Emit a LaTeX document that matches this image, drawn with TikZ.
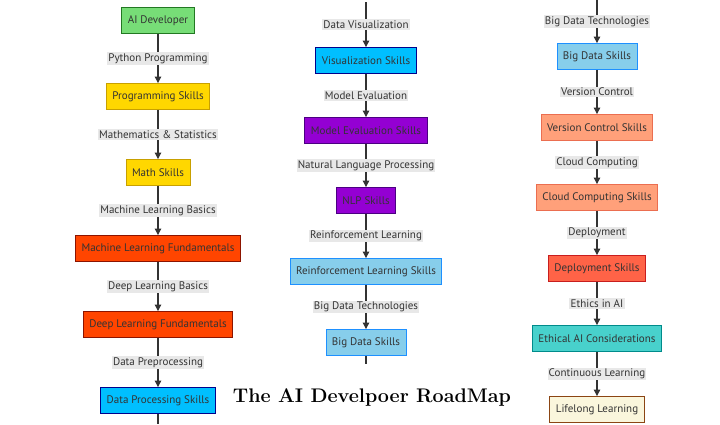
\documentclass[tikz,border=0pt]{standalone}
\usepackage{fontspec}
\setsansfont{PT Sans}
\usetikzlibrary{arrows.meta}

\definecolor{ink}{HTML}{333333}
\definecolor{lblbg}{HTML}{E8E8E8}

\begin{document}
\begin{tikzpicture}[x=1pt,y=-1pt,
    skill/.style={draw, line width=0.9pt, text=ink, font=\sffamily\fontsize{11}{12}\selectfont,
      inner xsep=6pt, minimum height=26pt, anchor=center},
    flow/.style={draw=ink, line width=1.1pt, -{Triangle[width=6.5pt,length=6.5pt]}},
    plain/.style={draw=ink, line width=1.1pt},
    lbl/.style={fill=lblbg, text=ink, font=\sffamily\fontsize{11}{12}\selectfont, inner sep=1.2pt}]

	\useasboundingbox (0,0) rectangle (720,424);

	% left column
	\node[skill, fill={rgb,255:red,119;green,221;blue,119}, draw={rgb,255:red,34;green,120;blue,34}] (dev) at (158,20.5) {AI Developer};
	\node[skill, fill={rgb,255:red,255;green,215;blue,0}, draw={rgb,255:red,200;green,160;blue,0}] (prog) at (158,96.5) {Programming Skills};
	\node[skill, fill={rgb,255:red,255;green,215;blue,0}, draw={rgb,255:red,200;green,160;blue,0}] (math) at (158,172.5) {Math Skills};
	\node[skill, fill={rgb,255:red,255;green,69;blue,0}, draw={rgb,255:red,140;green,20;blue,0}] (mlf) at (158,248.5) {Machine Learning Fundamentals};
	\node[skill, fill={rgb,255:red,255;green,69;blue,0}, draw={rgb,255:red,140;green,20;blue,0}] (dlf) at (158,324.5) {Deep Learning Fundamentals};
	\node[skill, fill={rgb,255:red,0;green,191;blue,255}, draw={rgb,255:red,0;green,0;blue,139}] (dps) at (158,400.5) {Data Processing Skills};
	\coordinate (leftend) at (158,424);

	\draw[flow] (dev) -- node[lbl]{Python Programming} (prog);
	\draw[flow] (prog) -- node[lbl]{Mathematics \& Statistics} (math);
	\draw[flow] (math) -- node[lbl]{Machine Learning Basics} (mlf);
	\draw[flow] (mlf) -- node[lbl]{Deep Learning Basics} (dlf);
	\draw[flow] (dlf) -- node[lbl]{Data Preprocessing} (dps);
	\draw[plain] (dps) -- (leftend);

	% middle column
	\coordinate (midstart) at (366,2);
	\node[skill, fill={rgb,255:red,0;green,191;blue,255}, draw={rgb,255:red,0;green,0;blue,139}] (vis) at (366,60.5) {Visualization Skills};
	\node[skill, fill={rgb,255:red,148;green,0;blue,211}, draw={rgb,255:red,75;green,0;blue,130}] (eval) at (366,130.5) {Model Evaluation Skills};
	\node[skill, fill={rgb,255:red,148;green,0;blue,211}, draw={rgb,255:red,75;green,0;blue,130}] (nlp) at (366,200.5) {NLP Skills};
	\node[skill, fill={rgb,255:red,135;green,206;blue,235}, draw={rgb,255:red,30;green,144;blue,255}] (rl) at (366,271.5) {Reinforcement Learning Skills};
	\node[skill, fill={rgb,255:red,135;green,206;blue,235}, draw={rgb,255:red,30;green,144;blue,255}] (bdm) at (366,342.5) {Big Data Skills};
	\coordinate (midend) at (366,364);

	\draw[flow] (midstart) -- node[lbl]{Data Visualization} (vis);
	\draw[flow] (vis) -- node[lbl]{Model Evaluation} (eval);
	\draw[flow] (eval) -- node[lbl]{Natural Language Processing} (nlp);
	\draw[flow] (nlp) -- node[lbl]{Reinforcement Learning} (rl);
	\draw[flow] (rl) -- node[lbl]{Big Data Technologies} (bdm);
	\draw[plain] (bdm) -- (midend);

	% right column
	\coordinate (rightstart) at (597,0);
	\node[skill, fill={rgb,255:red,135;green,206;blue,235}, draw={rgb,255:red,30;green,144;blue,255}] (bdr) at (597,56.5) {Big Data Skills};
	\node[skill, fill={rgb,255:red,255;green,160;blue,122}, draw={rgb,255:red,235;green,110;blue,80}] (vcs) at (597,127.5) {Version Control Skills};
	\node[skill, fill={rgb,255:red,255;green,160;blue,122}, draw={rgb,255:red,235;green,110;blue,80}] (cloud) at (597,197.5) {Cloud Computing Skills};
	\node[skill, fill={rgb,255:red,255;green,99;blue,71}, draw={rgb,255:red,200;green,30;blue,30}] (dep) at (597,268.5) {Deployment Skills};
	\node[skill, fill={rgb,255:red,72;green,209;blue,204}, draw={rgb,255:red,0;green,139;blue,139}] (eth) at (597,338.5) {Ethical AI Considerations};
	\node[skill, fill={rgb,255:red,250;green,246;blue,220}, draw={rgb,255:red,139;green,69;blue,19}] (life) at (597,409.5) {Lifelong Learning};

	\draw[flow] (rightstart) -- node[lbl]{Big Data Technologies} (bdr);
	\draw[flow] (bdr) -- node[lbl]{Version Control} (vcs);
	\draw[flow] (vcs) -- node[lbl]{Cloud Computing} (cloud);
	\draw[flow] (cloud) -- node[lbl]{Deployment} (dep);
	\draw[flow] (dep) -- node[lbl]{Ethics in AI} (eth);
	\draw[flow] (eth) -- node[lbl]{Continuous Learning} (life);

	% title
	\node[font=\rmfamily\bfseries\fontsize{19.7}{22}\selectfont, text=black] (title) at (372,398) {The AI Develpoer RoadMap};
\end{tikzpicture}
\end{document}
